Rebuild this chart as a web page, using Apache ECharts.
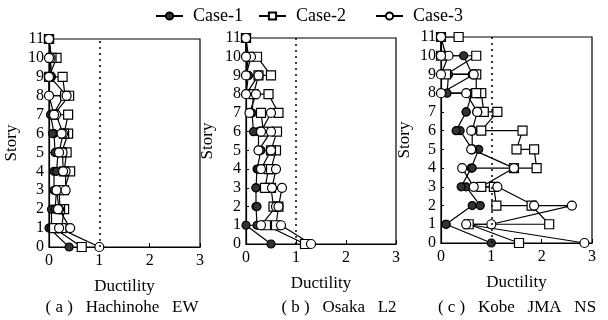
<!DOCTYPE html>
<html>
<head>
<meta charset="utf-8">
<script src="https://cdn.jsdelivr.net/npm/echarts@6/dist/echarts.min.js"></script>
<style>
  html, body { margin: 0; padding: 0; background: #fff; }
  #chart { width: 608px; height: 320px; }
</style>
</head>
<body>
<div id="chart"></div>
<script>
// story of each point, in drawing order (story 0, then two points per story)
var stories = [0, 1, 1, 2, 2, 3, 3, 4, 4, 5, 5, 6, 6, 7, 7, 8, 8, 9, 9, 10, 10, 11, 11];

// (a) Hachinohe EW
var hachinoheCase1 = [0.40, 0.00, 0.05, 0.05, 0.12, 0.15, 0.10, 0.10, 0.15, 0.18, 0.12, 0.10, 0.07, 0.03, 0.08, 0.30, 0.00, 0.00, 0.05, 0.03, 0.00, 0.00, 0.00];
var hachinoheCase2 = [0.65, 0.10, 0.25, 0.30, 0.22, 0.20, 0.30, 0.42, 0.30, 0.35, 0.25, 0.38, 0.30, 0.38, 0.10, 0.40, 0.32, 0.27, 0.00, 0.15, 0.05, 0.00, 0.00];
var hachinoheCase3 = [1.00, 0.20, 0.42, 0.20, 0.18, 0.15, 0.33, 0.33, 0.28, 0.27, 0.20, 0.28, 0.25, 0.14, 0.10, 0.00, 0.35, 0.02, 0.00, 0.03, 0.00, 0.00, 0.00];

// (b) Osaka L2
var osakaCase1 = [0.50, 0.00, 0.22, 0.20, 0.22, 0.20, 0.20, 0.22, 0.25, 0.30, 0.25, 0.25, 0.15, 0.12, 0.08, 0.15, 0.00, 0.05, 0.00, 0.05, 0.00, 0.00, 0.00];
var osakaCase2 = [1.18, 0.40, 0.60, 0.65, 0.55, 0.50, 0.38, 0.45, 0.50, 0.60, 0.50, 0.62, 0.35, 0.30, 0.65, 0.45, 0.15, 0.25, 0.50, 0.22, 0.05, 0.00, 0.00];
var osakaCase3 = [1.30, 0.70, 0.30, 0.60, 0.65, 0.72, 0.52, 0.60, 0.30, 0.50, 0.25, 0.50, 0.30, 0.50, 0.07, 0.20, 0.00, 0.25, 0.00, 0.10, 0.00, 0.00, 0.00];

// (c) Kobe JMA NS
var kobeCase1 = [1.00, 0.10, 0.10, 0.62, 0.78, 0.50, 0.40, 0.60, 0.62, 0.75, 0.62, 0.38, 0.30, 0.50, 0.50, 0.62, 0.12, 0.15, 0.62, 0.45, 0.10, 0.00, 0.00];
var kobeCase2 = [1.55, 0.55, 2.15, 1.80, 1.10, 1.05, 0.80, 1.45, 1.90, 1.85, 1.50, 1.62, 0.80, 1.12, 0.85, 0.80, 0.70, 0.70, 0.10, 0.70, 0.00, 0.00, 0.35];
var kobeCase3 = [2.85, 0.50, 1.00, 2.60, 1.85, 1.12, 0.65, 0.42, 1.45, 0.62, 0.60, 0.62, 0.60, 0.72, 0.72, 0.50, 0.00, 0.65, 0.00, 0.15, 0.00, 0.00, 0.00];

var caseNames = ['Case-1', 'Case-2', 'Case-3'];
var panelTitles = ['( a )   Hachinohe   EW', '( b )   Osaka   L2', '( c )   Kobe   JMA   NS'];
var xTicks = [0, 1, 2, 3];

var panels = [
    [hachinoheCase1, hachinoheCase2, hachinoheCase3],
    [osakaCase1, osakaCase2, osakaCase3],
    [kobeCase1, kobeCase2, kobeCase3]
];

var font = '"Liberation Serif", "DejaVu Serif", serif';
var grids = [
    { left: 49, width: 151, top: 39, height: 208 },
    { left: 246, width: 150, top: 38, height: 206 },
    { left: 441, width: 151, top: 37, height: 206 }
];
var storyGaps = [29, 30, 28];
var titleCenters = [122, 339, 517];
var legendLefts = [150, 253, 370];

var symbols = [
    { symbol: 'circle', size: 8, fill: '#333' },
    { symbol: 'rect', size: 9, fill: '#fff' },
    { symbol: 'circle', size: 9, fill: '#fff' }
];

function toPoints(xs) {
    return xs.map(function (x, i) { return [x, stories[i]]; });
}

var dom = document.getElementById('chart');
var myChart = echarts.init(dom, null, { renderer: 'canvas' });

var xAxes = [], yAxes = [], series = [], graphics = [];
grids.forEach(function (g, p) {
    g.show = true;
    g.borderColor = '#000';
    g.borderWidth = 1.2;
    xAxes.push({
        gridIndex: p,
        type: 'value',
        min: xTicks[0],
        max: xTicks[xTicks.length - 1],
        interval: 1,
        name: 'Ductility',
        nameLocation: 'middle',
        nameGap: 31,
        nameTextStyle: { fontFamily: font, fontSize: 17, color: '#000' },
        axisLine: { lineStyle: { color: '#000', width: 1.2 } },
        axisTick: { inside: true, length: 4, lineStyle: { color: '#000' } },
        axisLabel: { fontFamily: font, fontSize: 16, color: '#000', margin: 6 },
        splitLine: { show: false }
    });
    yAxes.push({
        gridIndex: p,
        type: 'value',
        min: 0,
        max: 11,
        interval: 1,
        name: 'Story',
        nameLocation: 'middle',
        nameGap: storyGaps[p],
        nameTextStyle: { fontFamily: font, fontSize: 17, color: '#000' },
        axisLine: { lineStyle: { color: '#000', width: 1.2 } },
        axisTick: { inside: true, length: 3, lineStyle: { color: '#000' } },
        axisLabel: { fontFamily: font, fontSize: 16, color: '#000', margin: 5 },
        splitLine: { show: false }
    });
    panels[p].forEach(function (xs, c) {
        var s = {
            name: caseNames[c],
            type: 'line',
            xAxisIndex: p,
            yAxisIndex: p,
            data: toPoints(xs),
            symbol: symbols[c].symbol,
            symbolSize: symbols[c].size,
            showAllSymbol: true,
            lineStyle: { color: '#000', width: 1.2 },
            itemStyle: { color: symbols[c].fill, borderColor: '#000', borderWidth: 1.2 },
            animation: false
        };
        if (c === 0) {
            s.markLine = {
                silent: true,
                symbol: 'none',
                label: { show: false },
                lineStyle: { color: '#000', type: [2, 4], width: 1.5 },
                data: [{ xAxis: 1 }],
                animation: false
            };
        }
        series.push(s);
    });
    graphics.push({
        type: 'text',
        x: titleCenters[p],
        y: 299,
        style: { text: panelTitles[p], font: '17px ' + font, fill: '#000', textAlign: 'center' }
    });
});

var legends = caseNames.map(function (name, i) {
    return {
        data: [name],
        top: 2,
        left: legendLefts[i],
        itemWidth: 27,
        itemHeight: 9,
        textStyle: { fontFamily: font, fontSize: 18, color: '#000', padding: [0, 0, 0, 5] }
    };
});

var option = {
    backgroundColor: '#fff',
    animation: false,
    legend: legends,
    grid: grids,
    xAxis: xAxes,
    yAxis: yAxes,
    series: series,
    graphic: graphics
};

myChart.setOption(option);
window.addEventListener('resize', myChart.resize);
</script>
</body>
</html>
